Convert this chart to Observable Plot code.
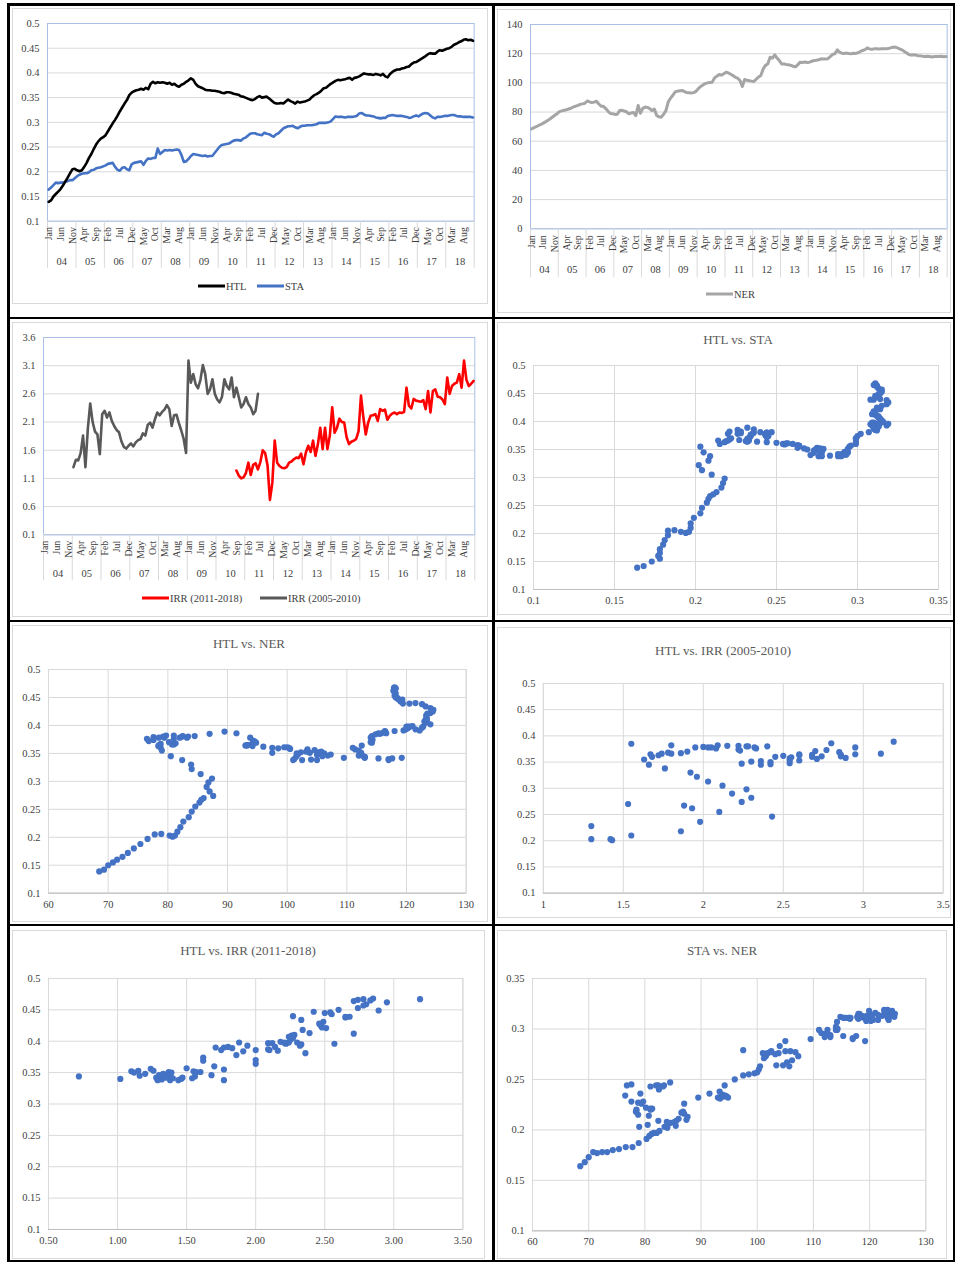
<!DOCTYPE html>
<html><head><meta charset="utf-8">
<script src="https://cdn.jsdelivr.net/npm/d3@7"></script>
<script src="https://cdn.jsdelivr.net/npm/@observablehq/plot@0.6"></script>
<style>
body{margin:0;background:#fff;}
#fig{position:relative;width:955px;height:1262px;font-family:"Liberation Serif",serif;overflow:hidden;}
.bl{position:absolute;background:#000;}
.inner{position:absolute;border:1px solid #d9d9d9;box-sizing:border-box;}
.p{position:absolute;}
.title{position:absolute;font-size:13px;color:#595959;transform:translate(-50%,-50%);white-space:nowrap;}
.leg{position:absolute;font-size:10.5px;color:#404040;display:flex;align-items:center;white-space:nowrap;transform:translateY(-50%);}
.sw{display:inline-block;height:3px;width:27px;margin-right:1px;}
</style></head>
<body><div id="fig"></div>
<script>
// ---------- DATA (monthly, Jan 2004 .. Dec 2018) ----------
const months = ["Jan","Feb","Mar","Apr","May","Jun","Jul","Aug","Sep","Oct","Nov","Dec"];
const yearLabels = ["04","05","06","07","08","09","10","11","12","13","14","15","16","17","18"];

const HTL = [
0.139,0.142,0.150,0.155,0.160,0.165,0.172,0.180,0.188,0.197,0.205,0.206,
0.203,0.201,0.203,0.210,0.218,0.228,0.236,0.246,0.255,0.262,0.267,0.270,
0.274,0.282,0.290,0.298,0.305,0.313,0.322,0.330,0.338,0.345,0.355,0.360,
0.363,0.365,0.366,0.368,0.366,0.370,0.367,0.378,0.382,0.379,0.381,0.380,
0.381,0.380,0.378,0.380,0.376,0.378,0.374,0.372,0.376,0.378,0.382,0.385,
0.389,0.386,0.378,0.373,0.371,0.369,0.366,0.365,0.365,0.364,0.364,0.363,
0.362,0.360,0.359,0.361,0.361,0.360,0.358,0.357,0.356,0.353,0.352,0.350,
0.348,0.346,0.345,0.347,0.351,0.353,0.350,0.351,0.352,0.348,0.344,0.340,
0.338,0.338,0.339,0.338,0.342,0.346,0.343,0.341,0.338,0.342,0.340,0.341,
0.342,0.344,0.346,0.351,0.355,0.357,0.360,0.364,0.369,0.370,0.374,0.378,
0.381,0.384,0.386,0.385,0.386,0.387,0.389,0.390,0.386,0.390,0.391,0.393,
0.396,0.399,0.398,0.397,0.397,0.396,0.398,0.397,0.395,0.398,0.393,0.391,
0.398,0.402,0.405,0.407,0.407,0.409,0.410,0.412,0.413,0.418,0.421,0.422,
0.425,0.428,0.431,0.434,0.438,0.440,0.439,0.439,0.443,0.446,0.445,0.447,
0.449,0.450,0.453,0.457,0.459,0.462,0.464,0.467,0.468,0.466,0.467,0.465];

const STA = [
0.164,0.168,0.173,0.178,0.177,0.178,0.178,0.180,0.181,0.183,0.183,0.187,
0.191,0.194,0.196,0.197,0.197,0.199,0.203,0.204,0.207,0.208,0.209,0.211,
0.213,0.216,0.217,0.218,0.210,0.204,0.202,0.208,0.209,0.205,0.203,0.215,
0.218,0.219,0.220,0.221,0.214,0.222,0.227,0.226,0.228,0.228,0.247,0.236,
0.240,0.244,0.243,0.244,0.243,0.244,0.245,0.244,0.234,0.220,0.221,0.226,
0.232,0.236,0.235,0.234,0.233,0.232,0.233,0.231,0.232,0.232,0.238,0.244,
0.250,0.254,0.255,0.256,0.257,0.260,0.263,0.264,0.264,0.263,0.267,0.269,
0.273,0.277,0.278,0.278,0.276,0.275,0.274,0.279,0.277,0.276,0.273,0.271,
0.276,0.278,0.283,0.288,0.290,0.292,0.292,0.293,0.290,0.288,0.291,0.293,
0.293,0.294,0.294,0.294,0.295,0.296,0.299,0.299,0.299,0.299,0.300,0.302,
0.307,0.312,0.311,0.311,0.311,0.310,0.311,0.311,0.311,0.312,0.313,0.318,
0.319,0.316,0.314,0.314,0.313,0.312,0.310,0.309,0.308,0.309,0.309,0.313,
0.314,0.315,0.314,0.313,0.313,0.313,0.312,0.311,0.309,0.310,0.312,0.314,
0.312,0.315,0.318,0.319,0.318,0.314,0.310,0.308,0.311,0.311,0.312,0.313,
0.313,0.314,0.315,0.315,0.313,0.312,0.312,0.311,0.311,0.311,0.311,0.310];

const NER = [
68.5,69.3,70.0,70.8,71.5,72.4,73.3,74.3,75.4,76.6,77.8,78.9,
80.3,80.8,81.2,81.6,82.1,82.6,83.5,84.0,84.6,85.3,85.6,86.0,
87.6,87.0,86.5,86.8,87.4,85.5,84.0,83.9,82.4,80.5,79.0,78.8,
78.4,78.5,81.0,81.3,80.7,80.2,78.8,79.4,79.7,77.6,84.5,79.2,
82.5,83.4,83.2,82.4,81.0,82.0,77.6,76.8,76.5,78.5,81.0,87.0,
89.5,91.5,93.8,94.3,94.6,94.8,94.0,93.4,93.2,93.0,93.3,94.2,
96.0,97.5,98.5,99.5,100.0,100.3,100.5,103.4,104.6,105.7,105.3,106.2,
107.3,106.8,105.9,105.0,103.8,103.2,101.6,97.5,102.3,101.8,101.5,101.2,
101.0,102.5,104.0,105.0,109.5,112.0,113.0,117.6,117.0,119.2,117.0,115.3,
113.0,113.0,112.6,112.4,112.0,111.4,111.0,112.5,114.2,114.0,114.3,114.0,
114.2,114.8,115.3,115.5,115.8,116.5,116.3,116.4,116.6,118.0,119.5,119.9,
122.6,121.0,120.3,120.2,120.4,120.1,120.0,120.3,120.2,120.6,121.5,122.2,
122.8,124.0,123.2,123.0,123.3,123.4,123.2,123.3,123.4,123.3,123.5,124.0,
124.4,124.5,124.0,123.2,122.6,121.5,120.5,119.4,119.0,119.3,119.0,118.6,
118.5,118.2,118.0,118.2,118.0,117.8,118.0,118.1,118.0,118.2,117.9,118.0];

// IRR (2005-2010) series, plotted from month index 12 (Jan 05)
const IRR_0510_start = 12;
const IRR_0510 = [
1.30,1.43,1.42,1.55,1.86,1.30,1.98,2.43,2.10,1.93,1.88,1.53,
2.24,2.30,2.18,2.27,2.12,2.03,1.96,1.92,1.76,1.66,1.63,1.68,
1.72,1.67,1.74,1.78,1.80,1.90,1.86,2.05,2.09,2.00,2.15,2.27,
2.22,2.28,2.32,2.40,2.33,2.03,2.22,2.23,2.08,1.95,1.80,1.55,
3.19,2.80,2.95,2.77,2.70,2.85,3.11,2.95,2.60,2.68,2.86,2.60,
2.50,2.45,2.55,2.86,2.74,2.68,2.89,2.54,2.71,2.54,2.36,2.42,
2.54,2.42,2.36,2.24,2.30,2.60];

// IRR (2011-2018) series, plotted from month index 80
const IRR_1118_start = 80;
const IRR_1118 = [
1.24,1.15,1.10,1.12,
1.20,1.38,1.16,1.34,1.37,1.26,1.39,1.60,1.55,1.33,0.72,1.02,
1.77,1.38,1.32,1.29,1.28,1.30,1.38,1.40,1.44,1.47,1.46,1.54,
1.35,1.56,1.68,1.57,1.77,1.50,1.70,2.00,1.62,2.00,1.62,1.86,
2.36,1.91,2.00,2.16,2.10,2.09,1.83,1.71,1.75,1.77,1.80,1.94,
2.57,2.18,1.88,2.09,2.21,2.22,2.24,2.12,2.33,2.30,2.32,2.14,
2.21,2.25,2.27,2.24,2.27,2.26,2.28,2.71,2.39,2.34,2.51,2.48,
2.47,2.46,2.49,2.33,2.65,2.27,2.65,2.68,2.55,2.54,2.50,2.42,
2.89,2.60,2.74,2.78,2.80,2.95,2.71,3.19,2.85,2.74,2.78,2.83];

// ---------- helpers ----------
const fig = document.getElementById("fig");
const N = HTL.length;
const idx = d3.range(N);
const monthTicks = d3.range(0, N, 5);
const yearCenters = yearLabels.map((_, k) => 12 * k + 5.5);
const yearBounds = d3.range(yearLabels.length + 1).map(k => 12 * k - 0.5);
const num = v => String(+v.toFixed(2));
const TXT = "#404040";
const baseStyle = {fontFamily: "Liberation Serif, serif", fontSize: "10.5px", color: TXT, background: "transparent", overflow: "visible"};

function place(svg, x, y) {
  const d = document.createElement("div");
  d.className = "p"; d.style.left = x + "px"; d.style.top = y + "px";
  d.appendChild(svg); fig.appendChild(d);
}
function box(cls, x, y, w, h) {
  const d = document.createElement("div");
  d.className = cls;
  Object.assign(d.style, {left: x + "px", top: y + "px", width: w + "px", height: h + "px"});
  fig.appendChild(d); return d;
}
function title(text, x, y) {
  const d = document.createElement("div");
  d.className = "title"; d.textContent = text;
  d.style.left = x + "px"; d.style.top = y + "px"; fig.appendChild(d);
}
function legend(items, x, y) {
  let cx = x;
  items.forEach(([label, color, gap]) => {
    const d = document.createElement("div");
    d.className = "leg"; d.style.left = cx + "px"; d.style.top = y + "px";
    d.innerHTML = `<span class="sw" style="background:${color}"></span>${label}`;
    fig.appendChild(d);
    cx += gap;
  });
}

function linePanel({frame, yDomain, yTicks, sepLen, monthPad, yearPad, marks}) {
  const [L, R, T, B] = frame;
  const ml = 40, mr = 8, mt = 10, mb = sepLen + 15;
  const svg = Plot.plot({
    width: R - L + ml + mr, height: B - T + mt + mb,
    marginLeft: ml, marginRight: mr, marginTop: mt, marginBottom: mb,
    x: {domain: [-0.5, N - 0.5], label: null},
    y: {domain: yDomain, label: null},
    style: baseStyle,
    marks: [
      Plot.gridY(yTicks, {stroke: "#d9d9d9", strokeOpacity: 1}),
      Plot.frame({stroke: "#a9bfe6"}),
      Plot.axisY(yTicks, {label: null, tickSize: 0, tickPadding: 8, tickFormat: num, fontSize: 10.5}),
      Plot.axisX(yearBounds, {label: null, tickSize: sepLen, tickFormat: () => "", stroke: "#d9d9d9"}),
      Plot.axisX(monthTicks, {label: null, tickSize: 0, tickPadding: monthPad, tickRotate: -90, tickFormat: i => months[i % 12], fontSize: 9.8}),
      Plot.axisX(yearCenters, {label: null, tickSize: 0, tickPadding: yearPad, tickFormat: c => yearLabels[Math.floor(c / 12)], fontSize: 10.5}),
      ...marks
    ]
  });
  place(svg, L - ml, T - mt);
}

function scatterPanel({frame, xDomain, xTicks, xFmt, yDomain, yTicks, data, x, y}) {
  const [L, R, T, B] = frame;
  const ml = 40, mr = 12, mt = 8, mb = 24;
  const svg = Plot.plot({
    width: R - L + ml + mr, height: B - T + mt + mb,
    marginLeft: ml, marginRight: mr, marginTop: mt, marginBottom: mb,
    x: {domain: xDomain, label: null}, y: {domain: yDomain, label: null},
    style: baseStyle,
    marks: [
      Plot.gridX(xTicks, {stroke: "#d9d9d9", strokeOpacity: 1}),
      Plot.gridY(yTicks, {stroke: "#d9d9d9", strokeOpacity: 1}),
      Plot.frame({stroke: "#d9d9d9"}),
      Plot.ruleY([yDomain[0]], {stroke: "#bfbfbf"}),
      Plot.axisY(yTicks, {label: null, tickSize: 0, tickPadding: 8, tickFormat: num, fontSize: 10.5}),
      Plot.axisX(xTicks, {label: null, tickSize: 0, tickPadding: 7, tickFormat: xFmt || num, fontSize: 10.5}),
      Plot.dot(data, {x, y, r: 3.1, fill: "#4472c4", stroke: "none"})
    ]
  });
  place(svg, L - ml, T - mt);
}

// ---------- inner chart-area boxes ----------
box("inner", 12, 8, 476, 296);
box("inner", 497, 9, 454, 304);
box("inner", 12, 322, 476, 295);
box("inner", 497, 322, 454, 293);
box("inner", 12, 625, 476, 297);
box("inner", 497, 627, 454, 291);
box("inner", 12, 930, 473, 329);
box("inner", 497, 930, 450, 329);

// ---------- panel 1: HTL & STA ----------
const yT1 = d3.range(0.1, 0.5001, 0.05).map(v => +v.toFixed(2));
linePanel({
  frame: [47.3, 474, 23.3, 221], yDomain: [0.1, 0.5], yTicks: yT1,
  sepLen: 47, monthPad: 6, yearPad: 36,
  marks: [
    Plot.line(idx, {x: d => d, y: d => STA[d], stroke: "#4472c4", strokeWidth: 2.6, strokeLinejoin: "round"}),
    Plot.line(idx, {x: d => d, y: d => HTL[d], stroke: "#000", strokeWidth: 2.6, strokeLinejoin: "round"})
  ]
});
legend([["HTL", "#000", 59], ["STA", "#4472c4", 0]], 198, 286);

// ---------- panel 2: NER ----------
linePanel({
  frame: [530, 946.7, 24, 228.3], yDomain: [0, 140], yTicks: d3.range(0, 141, 20),
  sepLen: 49, monthPad: 6.5, yearPad: 37,
  marks: [
    Plot.line(idx, {x: d => d, y: d => NER[d], stroke: "#a5a5a5", strokeWidth: 3, strokeLinejoin: "round"})
  ]
});
legend([["NER", "#a5a5a5", 0]], 706, 294);

// ---------- panel 3: IRR ----------
const yT3 = d3.range(0.1, 3.601, 0.5).map(v => +v.toFixed(1));
const irrA = IRR_0510.map((v, k) => ({i: k + IRR_0510_start, v}));
const irrB = IRR_1118.map((v, k) => ({i: k + IRR_1118_start, v}));
linePanel({
  frame: [42.7, 474, 336.7, 534], yDomain: [0.1, 3.6], yTicks: yT3,
  sepLen: 46, monthPad: 6, yearPad: 35,
  marks: [
    Plot.line(irrB, {x: "i", y: "v", stroke: "#ff0000", strokeWidth: 2.6, strokeLinejoin: "round"}),
    Plot.line(irrA, {x: "i", y: "v", stroke: "#595959", strokeWidth: 2.6, strokeLinejoin: "round"})
  ]
});
legend([["IRR (2011-2018)", "#ff0000", 118], ["IRR (2005-2010)", "#595959", 0]], 142, 598);

// ---------- panel 4: HTL vs STA ----------
title("HTL vs. STA", 738, 340);
scatterPanel({
  frame: [532.7, 937.7, 365, 589],
  xDomain: [0.1, 0.35], xTicks: [0.1, 0.15, 0.2, 0.25, 0.3, 0.35],
  yDomain: [0.1, 0.5], yTicks: yT1,
  data: idx, x: d => STA[d], y: d => HTL[d]
});

// ---------- panel 5: HTL vs NER ----------
title("HTL vs. NER", 249, 644);
scatterPanel({
  frame: [48.3, 466, 669, 892.7],
  xDomain: [60, 130], xTicks: d3.range(60, 131, 10),
  yDomain: [0.1, 0.5], yTicks: yT1,
  data: idx, x: d => NER[d], y: d => HTL[d]
});

// ---------- panel 6: HTL vs IRR (2005-2010) ----------
title("HTL vs. IRR (2005-2010)", 723, 651);
scatterPanel({
  frame: [543.3, 945, 682.7, 893.3],
  xDomain: [1, 3.5], xTicks: [1, 1.5, 2, 2.5, 3, 3.5],
  yDomain: [0.1, 0.5], yTicks: yT1,
  data: irrA, x: "v", y: d => HTL[d.i]
});

// ---------- panel 7: HTL vs IRR (2011-2018) ----------
title("HTL vs. IRR (2011-2018)", 248, 951);
scatterPanel({
  frame: [48.3, 462.7, 978.3, 1229.3],
  xDomain: [0.5, 3.5], xTicks: [0.5, 1, 1.5, 2, 2.5, 3, 3.5], xFmt: v => v.toFixed(2),
  yDomain: [0.1, 0.5], yTicks: yT1,
  data: irrB, x: "v", y: d => HTL[d.i]
});

// ---------- panel 8: STA vs NER ----------
title("STA vs. NER", 722, 951);
scatterPanel({
  frame: [531.7, 925, 977.7, 1230],
  xDomain: [60, 130], xTicks: d3.range(60, 131, 10),
  yDomain: [0.1, 0.35], yTicks: [0.1, 0.15, 0.2, 0.25, 0.3, 0.35],
  data: idx, x: d => NER[d], y: d => STA[d]
});

// ---------- black cell borders ----------
[[7, 3, 948, 2.5], [7, 316.5, 948, 2.5], [7, 619.5, 948, 2.5], [7, 923.5, 948, 2.5], [7, 1259.5, 948, 2.5]]
  .forEach(([x, y, w, h]) => box("bl", x, y, w, h));
[[7, 3, 2.5, 1259], [492, 3, 2.5, 1259], [952.5, 3, 2.5, 1259]]
  .forEach(([x, y, w, h]) => box("bl", x, y, w, h));
</script>
</body></html>
